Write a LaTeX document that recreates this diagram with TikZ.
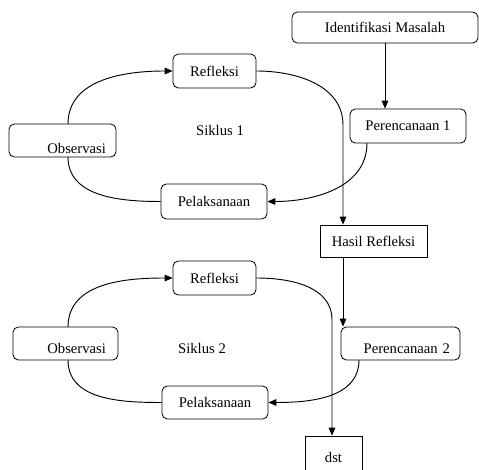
\documentclass[tikz,border=0pt]{standalone}
\usepackage{fontspec}
\setmainfont{Liberation Serif}
\usetikzlibrary{arrows.meta}

\begin{document}
\begin{tikzpicture}[
  x=0.75pt, y=-0.75pt,
  every node/.style={font=\fontsize{11}{13}\selectfont},
  box/.style={draw, rounded corners=4pt, line width=0.6pt, inner sep=2pt},
  sharpbox/.style={draw, line width=0.6pt, inner sep=2pt},
  lbl/.style={inner sep=1pt},
  flow/.style={line width=0.7pt},
  arr/.style={flow, -{Triangle[length=6pt,width=5pt]}}
]
\useasboundingbox (0,0) rectangle (479,470);

% boxes
\node[box, minimum width=139.5pt, minimum height=23.25pt] (ident) at (385,27.5) {Identifikasi Masalah};
\node[box, minimum width=62.25pt, minimum height=25.5pt] (refl1) at (214.5,71) {Refleksi};
\node[box, minimum width=87pt, minimum height=25.5pt] (pere1) at (408,126) {Perencanaan 1};
\node[box, minimum height=24.75pt, inner xsep=7.5pt, inner ysep=1pt, text width=65.25pt,
      align=right, text height=18.8pt, text depth=0pt] (obs1) at (62.5,140.5) {Observasi};
\node[box, minimum width=79.5pt, minimum height=26.25pt] (pelak1) at (214,201.5) {Pelaksanaan};
\node[sharpbox, minimum width=80.25pt, minimum height=24pt] (hasil) at (373.5,241) {Hasil Refleksi};

\node[box, minimum width=62.25pt, minimum height=25.5pt] (refl2) at (214.5,278) {Refleksi};
\node[box, minimum height=24.75pt, inner xsep=9pt, inner ysep=1pt, text width=60.75pt,
      align=right, text height=14.4pt, text depth=0pt] (obs2) at (65.5,343.5) {Observasi};
\node[box, minimum height=24.75pt, inner xsep=7.5pt, inner ysep=1pt, text width=74.25pt,
      align=right, text height=14.4pt, text depth=0pt] (pere2) at (400.5,343.5) {Perencanaan 2};
\node[box, minimum width=79.5pt, minimum height=24.75pt] (pelak2) at (215,402.5) {Pelaksanaan};
\node[sharpbox, minimum width=42.75pt, minimum height=31.5pt] (dst) at (333.5,457) {dst};

% labels
\node[lbl] (sik1) at (220,130) {Siklus 1};
\node[lbl] (sik2) at (202,348) {Siklus 2};

% turning points
\coordinate (h1) at (343,125);
\coordinate (h2) at (332,320);
\coordinate (o1t) at (68,124);
\coordinate (o1b) at (68,157);
\coordinate (p1b) at (367,143);
\coordinate (o2t) at (68,327);
\coordinate (o2b) at (68,360);
\coordinate (p2b) at (359,360);

% siklus 1
\draw[arr] (ident.south) -- (ident.south |- pere1.north);
\draw[arr] (o1t) to[out=90, in=180] (refl1.west);
\draw[flow] (o1b) to[out=-90, in=180] (pelak1.west);
\draw[arr] (refl1.east) to[out=0, in=90] (h1) -- (h1 |- hasil.north);
\draw[arr] (p1b) to[out=-90, in=0] (pelak1.east);

% siklus 2
\draw[arr] (hasil.south -| h1) -- (h1 |- pere2.north);
\draw[arr] (o2t) to[out=90, in=180] (refl2.west);
\draw[flow] (o2b) to[out=-90, in=180] (pelak2.west);
\draw[arr] (refl2.east) to[out=0, in=90] (h2) -- (h2 |- dst.north);
\draw[arr] (p2b) to[out=-90, in=0] (pelak2.east);
\end{tikzpicture}
\end{document}
